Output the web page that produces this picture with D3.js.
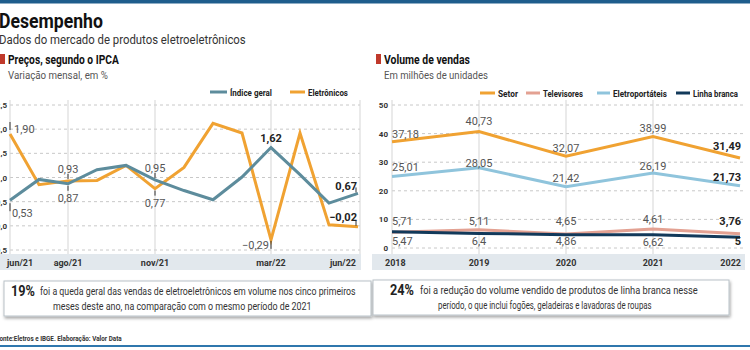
<!DOCTYPE html>
<html><head><meta charset="utf-8">
<script src="https://cdn.jsdelivr.net/npm/d3@7"></script>
<style>
body{margin:0;background:#fff;}
svg{display:block;font-family:"Roboto","Liberation Sans",sans-serif;}
</style></head><body>
<svg id="c" width="750" height="350"></svg>
<script>
// ---- data ----
const months = ["jun/21","jul/21","ago/21","set/21","out/21","nov/21","dez/21","jan/22","fev/22","mar/22","abr/22","mai/22","jun/22"];
const monthTicks = ["jun/21","ago/21","nov/21","mar/22","jun/22"];
const indiceGeral = [0.53,0.96,0.87,1.16,1.25,0.95,0.73,0.54,1.01,1.62,1.06,0.47,0.67];
const eletronicos = [1.90,0.85,0.93,0.94,1.25,0.77,1.21,2.12,1.92,-0.29,1.92,0.02,-0.02];
const leftYTicks = [-0.5,0,0.5,1.0,1.5,2.0,2.5];

const years = ["2018","2019","2020","2021","2022"];
const setor = [37.18,40.73,32.07,38.99,31.49];
const televisores = [5.47,6.4,4.86,6.62,5];
const eletroportateis = [25.01,28.05,21.42,26.19,21.73];
const linhaBranca = [5.71,5.11,4.65,4.61,3.76];
const rightYTicks = [0,10,20,30,40,50];

const C = {orange:"#f0a232", blue:"#5d8c9c", pink:"#e3a192", light:"#8fc4dc", navy:"#12395a", red:"#c0392b", grid:"#c8c8c8", band:"#e2e8ed", text:"#444"};
const fmt = v => d3.format(".2f")(v).replace(".", ",");
const fmtR = v => String(v).replace(".", ",");

const svg = d3.select("#c");
const defs = svg.append("defs");
const f = defs.append("filter").attr("id","sh").attr("x","-5%").attr("y","-20%").attr("width","110%").attr("height","150%");
f.append("feDropShadow").attr("dx",1).attr("dy",2).attr("stdDeviation",1.5).attr("flood-color","#000").attr("flood-opacity",0.35);

// text helper: optional target width is reached with a horizontal scale (condensed look)
function txt(x,y,t,o={}){
  const e = svg.append("text").attr("font-size",o.s||10).attr("fill",o.c||"#333")
    .attr("font-weight",o.b?700:400).attr("text-anchor",o.a||"start").text(t);
  if(o.w){
    e.attr("x",0).attr("y",0);
    const w0 = e.node().getComputedTextLength();
    e.attr("transform",`translate(${x},${y}) scale(${o.w/w0},1)`);
  } else {
    e.attr("x",x).attr("y",y);
  }
  return e;
}

// top & bottom rules
svg.append("rect").attr("x",0).attr("y",0).attr("width",750).attr("height",3.5).attr("fill","#1f5d8c");
svg.append("rect").attr("x",0).attr("y",345).attr("width",750).attr("height",2).attr("fill","#2f77ad");

// titles
txt(-1,28,"Desempenho",{s:20,b:true,c:"#111",w:104});
txt(-1,44,"Dados do mercado de produtos eletroeletrônicos",{s:13,c:"#333",w:247});

function sectionTitle(x, title, tw, sub, sw){
  svg.append("rect").attr("x",x).attr("y",54).attr("width",5).attr("height",10).attr("fill",C.red);
  txt(x+8,64,title,{s:12,b:true,c:"#111",w:tw});
  txt(x+8,79,sub,{s:11,c:"#555",w:sw});
}
sectionTitle(0,"Preços, segundo o IPCA",111,"Variação mensal, em %",100);
sectionTitle(376,"Volume de vendas",86,"Em milhões de unidades",104);

function legend(items, y){
  items.forEach(it=>{
    svg.append("line").attr("x1",it.x).attr("x2",it.x2).attr("y1",y).attr("y2",y).attr("stroke",it.c).attr("stroke-width",3);
    txt(it.x2+3,y+3.5,it.t,{s:9,b:true,c:"#222",w:it.w});
  });
}
legend([{x:210,x2:227,c:C.blue,t:"Índice geral",w:42},{x:290,x2:305,c:C.orange,t:"Eletrônicos",w:40}],92);
legend([{x:480,x2:495,c:C.orange,t:"Setor",w:20},{x:526,x2:540,c:C.pink,t:"Televisores",w:40},{x:597,x2:610,c:C.light,t:"Eletroportáteis",w:54},{x:676,x2:690,c:C.navy,t:"Linha branca",w:45}],93);

// ---- left chart ----
const xL = d3.scalePoint().domain(months).range([10,358]);
const yL = d3.scaleLinear().domain([-0.5,2.5]).range([250,105]);
const gL = svg.append("g");
gL.selectAll(".hg").data(leftYTicks).join("line").attr("x1",10).attr("x2",360).attr("y1",d=>yL(d)).attr("y2",d=>yL(d))
  .attr("stroke",C.grid).attr("stroke-dasharray","3,3");
gL.selectAll(".vg").data(["ago/21","nov/21","mar/22"]).join("line").attr("x1",d=>xL(d)).attr("x2",d=>xL(d)).attr("y1",100).attr("y2",254)
  .attr("stroke","#d5d5d5");
gL.append("line").attr("x1",10).attr("x2",10).attr("y1",100).attr("y2",254).attr("stroke","#d5d5d5");
gL.append("line").attr("x1",360).attr("x2",360).attr("y1",100).attr("y2",270).attr("stroke","#d5d5d5");
gL.selectAll(".yl").data(leftYTicks).join("text").attr("x",7).attr("y",d=>yL(d)+3).attr("text-anchor","end")
  .attr("font-size",8).attr("font-weight",700).attr("fill","#333").text(d=>d3.format(".1f")(d).replace(".",","));
gL.append("rect").attr("x",0).attr("y",254).attr("width",361).attr("height",16).attr("fill",C.band);
const tickAnchor = {"jun/21":"start","jun/22":"end"};
gL.selectAll(".xl").data(monthTicks).join("text")
  .attr("x",d=> d==="jun/21"?7:(d==="jun/22"?356:xL(d))).attr("y",266)
  .attr("text-anchor",d=>tickAnchor[d]||"middle").attr("font-size",9).attr("font-weight",700).attr("fill","#333").text(d=>d);
const lineL = d3.line().x((d,i)=>xL(months[i])).y(d=>yL(d));
gL.append("path").attr("d",lineL(eletronicos)).attr("fill","none").attr("stroke",C.orange).attr("stroke-width",3);
gL.append("path").attr("d",lineL(indiceGeral)).attr("fill","none").attr("stroke",C.blue).attr("stroke-width",3);

function lab(g, x, y, t, opt={}){
  g.append("text").attr("x",x).attr("y",y).attr("text-anchor",opt.a||"middle").attr("font-size",opt.s||11)
    .attr("font-weight",opt.b?700:400).attr("fill",opt.b?"#222":"#555").text(t);
}
function tick(g,x,y1,y2){ g.append("line").attr("x1",x).attr("x2",x).attr("y1",y1).attr("y2",y2).attr("stroke","#333").attr("stroke-width",1); }
{
  const x0=xL(months[0]);
  tick(gL,x0,yL(eletronicos[0])-12,yL(eletronicos[0])-4); lab(gL,x0+4,yL(eletronicos[0])-1,fmt(eletronicos[0]),{a:"start"});
  tick(gL,x0,yL(indiceGeral[0])+3,yL(indiceGeral[0])+11); lab(gL,x0+2,yL(indiceGeral[0])+17,fmt(indiceGeral[0]),{a:"start"});
  const xa=xL("ago/21");
  tick(gL,xa,yL(eletronicos[2])-7,yL(eletronicos[2])-2); lab(gL,xa,yL(eletronicos[2])-8,fmt(eletronicos[2]));
  tick(gL,xa,yL(indiceGeral[2])+2,yL(indiceGeral[2])+7); lab(gL,xa,yL(indiceGeral[2])+18,fmt(indiceGeral[2]));
  const xn=xL("nov/21");
  tick(gL,xn,yL(indiceGeral[5])-7,yL(indiceGeral[5])-2); lab(gL,xn,yL(indiceGeral[5])-8,fmt(indiceGeral[5]));
  tick(gL,xn,yL(eletronicos[5])+2,yL(eletronicos[5])+7); lab(gL,xn,yL(eletronicos[5])+18,fmt(eletronicos[5]));
  const xm=xL("mar/22");
  lab(gL,xm,yL(indiceGeral[9])-6,fmt(indiceGeral[9]),{b:true});
  tick(gL,xm,yL(eletronicos[9])+1,yL(eletronicos[9])+9); lab(gL,xm-2,yL(eletronicos[9])+9,fmt(eletronicos[9]),{a:"end"});
  const xj=xL("jun/22");
  tick(gL,xj-2,yL(indiceGeral[12])-6,yL(indiceGeral[12])-1); lab(gL,xj-1,yL(indiceGeral[12])-3,fmt(indiceGeral[12]),{a:"end",b:true});
  tick(gL,xj-2,yL(eletronicos[12])-6,yL(eletronicos[12])-1); lab(gL,xj-1,yL(eletronicos[12])-6,fmt(eletronicos[12]),{a:"end",b:true});
}

// ---- right chart ----
const xR = d3.scalePoint().domain(years).range([392,740]);
const yR = d3.scaleLinear().domain([0,50]).range([248,105]);
const gR = svg.append("g");
gR.selectAll(".hg").data(rightYTicks).join("line").attr("x1",392).attr("x2",745).attr("y1",d=>yR(d)).attr("y2",d=>yR(d))
  .attr("stroke",C.grid).attr("stroke-dasharray","3,3");
gR.selectAll(".vg").data(years.slice(0,4)).join("line").attr("x1",d=>xR(d)).attr("x2",d=>xR(d)).attr("y1",100).attr("y2",254).attr("stroke","#d5d5d5");
gR.selectAll(".yl").data(rightYTicks).join("text").attr("x",388).attr("y",d=>yR(d)+3).attr("text-anchor","end")
  .attr("font-size",8).attr("font-weight",700).attr("fill","#333").text(d=>d);
gR.append("rect").attr("x",372).attr("y",254).attr("width",373).attr("height",16).attr("fill",C.band);
gR.selectAll(".xl").data(years).join("text").attr("x",(d,i)=> i===0?385:(i===4?741:xR(d))).attr("y",266)
  .attr("text-anchor",(d,i)=> i===0?"start":(i===4?"end":"middle")).attr("font-size",9).attr("font-weight",700).attr("fill","#333").text(d=>d);
const lineR = d3.line().x((d,i)=>xR(years[i])).y(d=>yR(d));
[[televisores,C.pink],[linhaBranca,C.navy],[eletroportateis,C.light],[setor,C.orange]].forEach(([s,c])=>{
  gR.append("path").attr("d",lineR(s)).attr("fill","none").attr("stroke",c).attr("stroke-width",3);
});
function rLabels(vals, dy){
  vals.forEach((v,i)=>{
    const last = i===4, first=i===0;
    const x = first?392:(last?741:xR(years[i]));
    lab(gR,x,dy(v,i),fmtR(v),{a:first?"start":(last?"end":"middle"),b:last});
  });
}
rLabels(setor,(v,i)=>yR(v)-(i===1?7:(i===4?8:4)));
rLabels(eletroportateis,(v,i)=>yR(v)-(i===1?1:(i===3?3:5)));
rLabels(linhaBranca,(v,i)=>yR(8.0)+(i===3?-2:0));
rLabels(televisores,(v,i)=>yR(1.0)+(i===3?1:0));

// ---- boxes ----
function box(x,y,w,h,big,bx,l1,l1x,l1w,l2,l2x,l2w){
  svg.append("rect").attr("x",x).attr("y",y).attr("width",w).attr("height",h).attr("fill","#fff").attr("stroke","#b9c2c8").attr("filter","url(#sh)");
  txt(bx,y+15,big,{s:14,b:true,c:"#222",w:24});
  txt(l1x,y+14,l1,{s:10,c:"#333",w:l1w});
  txt(l2x,y+29,l2,{s:10,c:"#333",w:l2w});
}
box(4,281,367,35,"19%",11,"foi a queda geral das vendas de eletroeletrônicos em volume nos cinco primeiros",40,316,
    "meses deste ano, na comparação com o mesmo período de 2021",53,259);
box(373,280,356,35,"24%",390,"foi a redução do volume vendido de produtos de linha branca nesse",420,278,
    "período, o que inclui fogões, geladeiras e lavadoras de roupas",438,214);

txt(-4,341,"Fonte:Eletros e IBGE. Elaboração: Valor Data",{s:7,b:true,c:"#333",w:126});
</script></body></html>
